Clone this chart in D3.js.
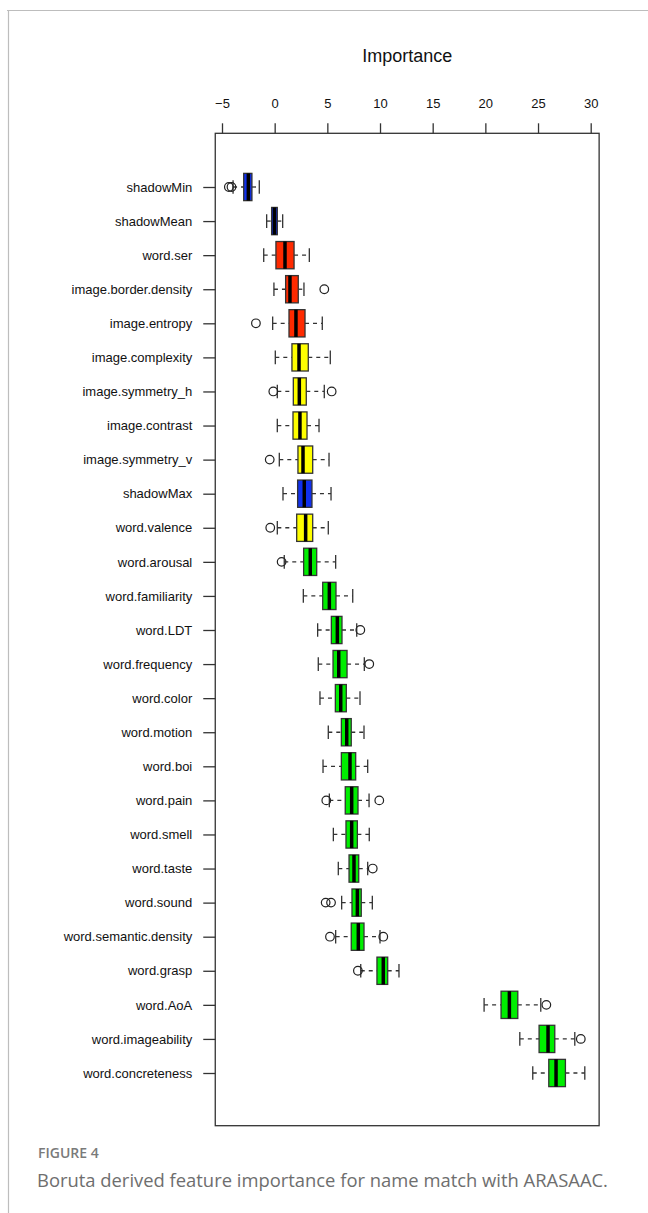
<!DOCTYPE html>
<html>
<head>
<meta charset="utf-8">
<script src="https://cdn.jsdelivr.net/npm/d3@7"></script>
<style>
  html, body { margin: 0; padding: 0; background: #fff; }
  svg { display: block; }
</style>
</head>
<body>
<script>
// Boruta feature importance: one horizontal boxplot per feature
const features = ["shadowMin","shadowMean","word.ser","image.border.density","image.entropy",
  "image.complexity","image.symmetry_h","image.contrast","image.symmetry_v","shadowMax",
  "word.valence","word.arousal","word.familiarity","word.LDT","word.frequency","word.color",
  "word.motion","word.boi","word.pain","word.smell","word.taste","word.sound",
  "word.semantic.density","word.grasp","word.AoA","word.imageability","word.concreteness"];
const decision = ["Shadow","Shadow","Rejected","Rejected","Rejected",
  "Tentative","Tentative","Tentative","Tentative","Shadow",
  "Tentative","Confirmed","Confirmed","Confirmed","Confirmed","Confirmed",
  "Confirmed","Confirmed","Confirmed","Confirmed","Confirmed","Confirmed",
  "Confirmed","Confirmed","Confirmed","Confirmed","Confirmed"];
const whiskerLow  = [-3.95,-0.76,-1.04,-0.07,-0.19,0.06,0.25,0.25,0.44,0.79,0.25,0.91,2.72,4.08,4.14,4.30,5.09,4.59,5.19,5.57,6.04,6.36,5.79,8.17,19.88,23.27,24.50];
const q1          = [-2.94,-0.29,0.12,1.04,1.36,1.64,1.77,1.74,2.21,2.18,2.09,2.75,4.56,5.38,5.54,5.76,6.33,6.33,6.70,6.77,7.06,7.34,7.27,9.71,21.49,25.10,26.02];
const median      = [-2.50,-0.02,0.98,1.45,2.02,2.31,2.34,2.40,2.69,2.81,2.94,3.38,5.19,5.95,6.08,6.27,6.84,7.15,7.31,7.31,7.53,7.85,7.94,10.31,22.28,25.95,26.71];
const q3          = [-2.16,0.25,1.84,2.24,2.88,3.19,3.00,3.07,3.61,3.54,3.61,3.99,5.82,6.39,6.87,6.80,7.27,7.69,7.91,7.85,7.98,8.22,8.48,10.73,23.08,26.59,27.60];
const whiskerHigh = [-1.46,0.76,3.29,2.78,4.52,5.28,4.71,4.21,5.16,5.35,5.09,5.79,7.41,7.79,8.51,8.10,8.48,8.83,8.96,8.98,8.83,9.27,10.00,11.80,25.26,28.49,29.44];
const outliers    = [[-4.35,-4.10],[],[],[4.71],[-1.78],[],[-0.13,5.41],[],[-0.47],[],[-0.42],[0.66],[],[8.13],[8.98],[],[],[],[4.90,9.93],[],[9.31],[4.84,5.35],[5.25,10.31],[7.90],[25.79],[29.06],[]];
const xTicks = [-5,0,5,10,15,20,25,30];
const decisionColors = {Confirmed:"#00ee00", Tentative:"#ffff00", Rejected:"#ff2a00", Shadow:"#1030ee"};

const W = 648, H = 1213;
const svg = d3.select("body").append("svg").attr("width", W).attr("height", H);

// page frame lines
svg.append("line").attr("x1", 7).attr("x2", W).attr("y1", 10.5).attr("y2", 10.5)
  .attr("stroke", "#bdbdbd").attr("stroke-width", 1.2);
svg.append("line").attr("x1", 8.5).attr("x2", 8.5).attr("y1", 10).attr("y2", H)
  .attr("stroke", "#bdbdbd").attr("stroke-width", 1.2);

const x = d3.scaleLinear().domain([-5, 30]).range([222, 590.7]);
const y = d3.scalePoint().domain(features).range([187, 1073]);
const step = y.step();
const boxH = step * 0.8;

const plot = { left: x(-5.64), right: x(30.8), top: 133.3, bottom: 1125.7 };

// plot border
svg.append("rect")
  .attr("x", plot.left).attr("y", plot.top)
  .attr("width", plot.right - plot.left).attr("height", plot.bottom - plot.top)
  .attr("fill", "none").attr("stroke", "#333").attr("stroke-width", 1.3);

// top axis
const xAxis = svg.append("g").attr("transform", `translate(0,${plot.top})`)
  .call(d3.axisTop(x).tickValues(xTicks).tickSize(10).tickPadding(15).tickFormat(d3.format("d")));
xAxis.select(".domain").remove();
xAxis.selectAll("line").attr("stroke", "#333").attr("stroke-width", 1.3);
xAxis.selectAll("text").attr("font-family", "Liberation Sans, Arial, sans-serif")
  .attr("font-size", 13).attr("fill", "#111");

svg.append("text").attr("x", (plot.left + plot.right) / 2).attr("y", 62)
  .attr("text-anchor", "middle").attr("font-family", "Liberation Sans, Arial, sans-serif")
  .attr("font-size", 18).attr("fill", "#111").text("Importance");

// left axis
const yAxis = svg.append("g").attr("transform", `translate(${plot.left},0)`)
  .call(d3.axisLeft(y).tickSize(12).tickPadding(11));
yAxis.select(".domain").remove();
yAxis.selectAll("line").attr("stroke", "#333").attr("stroke-width", 1.3);
yAxis.selectAll("text").attr("font-family", "Liberation Sans, Arial, sans-serif")
  .attr("font-size", 13).attr("fill", "#111");

// boxes
const rows = features.map((f, i) => ({
  f, i, lo: whiskerLow[i], q1: q1[i], med: median[i], q3: q3[i], hi: whiskerHigh[i],
  out: outliers[i], col: decisionColors[decision[i]]
}));

const g = svg.append("g");
const row = g.selectAll("g.row").data(rows).join("g").attr("class", "row");

// dashed whiskers
row.append("line").attr("x1", d => x(d.lo)).attr("x2", d => x(d.q1))
  .attr("y1", d => y(d.f)).attr("y2", d => y(d.f))
  .attr("stroke", "#333").attr("stroke-width", 1.3).attr("stroke-dasharray", "4,4");
row.append("line").attr("x1", d => x(d.q3)).attr("x2", d => x(d.hi))
  .attr("y1", d => y(d.f)).attr("y2", d => y(d.f))
  .attr("stroke", "#333").attr("stroke-width", 1.3).attr("stroke-dasharray", "4,4");
// whisker caps
["lo", "hi"].forEach(k => {
  row.append("line").attr("x1", d => x(d[k])).attr("x2", d => x(d[k]))
    .attr("y1", d => y(d.f) - boxH / 4).attr("y2", d => y(d.f) + boxH / 4)
    .attr("stroke", "#333").attr("stroke-width", 1.3);
});
// box
row.append("rect").attr("x", d => x(d.q1)).attr("width", d => x(d.q3) - x(d.q1))
  .attr("y", d => y(d.f) - boxH / 2).attr("height", boxH)
  .attr("fill", d => d.col).attr("stroke", "#333").attr("stroke-width", 1.3);
// median
row.append("line").attr("x1", d => x(d.med)).attr("x2", d => x(d.med))
  .attr("y1", d => y(d.f) - boxH / 2).attr("y2", d => y(d.f) + boxH / 2)
  .attr("stroke", "#000").attr("stroke-width", 3.5);
// outliers
row.selectAll("circle").data(d => d.out.map(v => ({ v, f: d.f }))).join("circle")
  .attr("cx", d => x(d.v)).attr("cy", d => y(d.f)).attr("r", 4.3)
  .attr("fill", "none").attr("stroke", "#222").attr("stroke-width", 1.2);

// caption
svg.append("text").attr("x", 38).attr("y", 1158)
  .attr("font-family", "Open Sans, sans-serif").attr("font-weight", 600)
  .attr("font-size", 14).attr("fill", "#7a7a7a").text("FIGURE 4");
svg.append("text").attr("x", 37).attr("y", 1187)
  .attr("font-family", "Open Sans, sans-serif").attr("font-weight", 400)
  .attr("font-size", 18.4).attr("fill", "#6e6e6e")
  .text("Boruta derived feature importance for name match with ARASAAC.");
</script>
</body>
</html>
